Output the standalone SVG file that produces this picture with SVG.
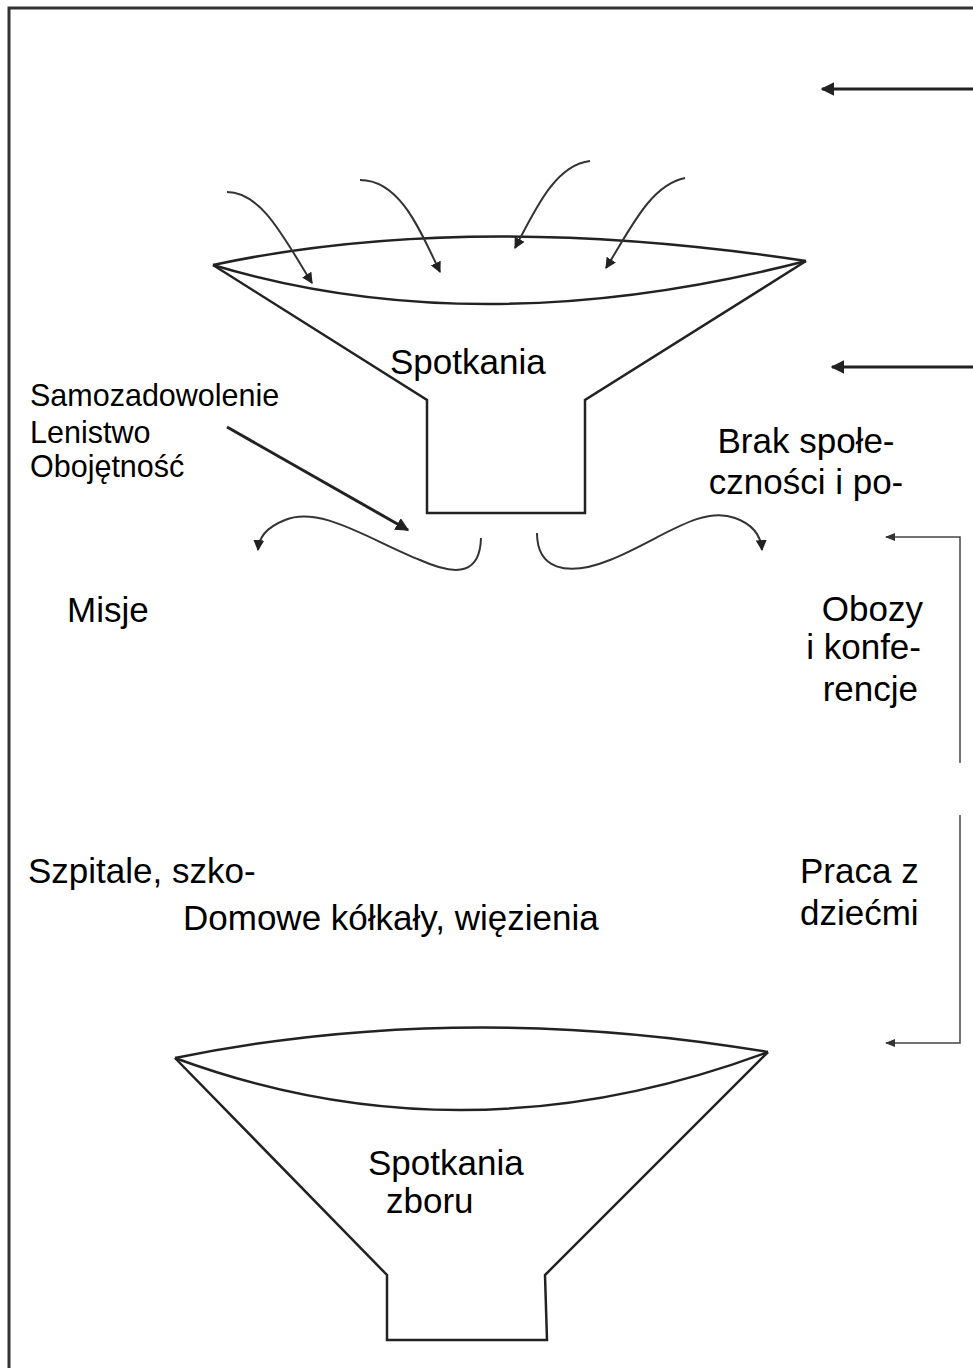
<svg xmlns="http://www.w3.org/2000/svg" width="973" height="1368" viewBox="0 0 973 1368">
<defs>
<marker id="ah" viewBox="0 0 10 10" refX="9" refY="5" markerWidth="5.5" markerHeight="5.5" orient="auto" markerUnits="strokeWidth">
<path d="M0,0 L10,5 L0,10 Z" fill="#222"/>
</marker>
<marker id="ahb" viewBox="0 0 10 10" refX="9" refY="5" markerWidth="4.5" markerHeight="4.5" orient="auto" markerUnits="strokeWidth">
<path d="M0,0 L10,5 L0,10 Z" fill="#222"/>
</marker>
<marker id="ahs" viewBox="0 0 10 10" refX="9" refY="5" markerWidth="7" markerHeight="7" orient="auto" markerUnits="strokeWidth">
<path d="M0,1 L10,5 L0,9 Z" fill="#333"/>
</marker>
</defs>
<style>
.ln{fill:none;stroke:#222;stroke-width:2.5;stroke-linejoin:miter}
.ar{fill:none;stroke:#333;stroke-width:2;marker-end:url(#ah)}
.br{fill:none;stroke:#444;stroke-width:1.5}
.t{font-family:"Liberation Sans",Arial,sans-serif;fill:#000}
.big{font-size:35px}
.small{font-size:30.5px}
</style>
<rect width="973" height="1368" fill="#fff"/>
<g id="border"><path d="M9,1368 L9,8 L973,8" fill="none" stroke="#333" stroke-width="3"/></g>

<g id="funnel-top">
<path class="ln" d="M213,265 Q470,210 806,261"/>
<path class="ln" d="M213,265 Q480,345 806,261"/>
<path class="ln" d="M213,265 L427,400 L427,513 L585,513 L585,400 L806,261"/>
<text class="t big" x="390" y="374">Spotkania</text>
</g>

<g id="funnel-bottom">
<path class="ln" d="M175,1058 Q460,1000 768,1052"/>
<path class="ln" d="M175,1058 Q465,1165 768,1052"/>
<path class="ln" d="M175,1058 L387,1275 L387,1340 L547,1340 L545,1275 L768,1052"/>
<text class="t big" x="368" y="1175">Spotkania</text>
<text class="t big" x="386" y="1213">zboru</text>
</g>

<g id="labels">
<text class="t small" x="30" y="406">Samozadowolenie</text>
<text class="t small" x="30" y="443">Lenistwo</text>
<text class="t small" x="30" y="477">Obojętność</text>
<text class="t big" x="806" y="453" text-anchor="middle">Brak społe-</text>
<text class="t big" x="806" y="494" text-anchor="middle">czności i po-</text>
<text class="t big" x="67" y="622">Misje</text>
<text class="t big" x="923" y="621" text-anchor="end">Obozy</text>
<text class="t big" x="921" y="659" text-anchor="end">i konfe-</text>
<text class="t big" x="918" y="701" text-anchor="end">rencje</text>
<text class="t big" x="28" y="883">Szpitale, szko-</text>
<text class="t big" x="183" y="930">Domowe kółkały, więzienia</text>
<text class="t big" x="800" y="883">Praca z</text>
<text class="t big" x="800" y="925">dziećmi</text>
</g>

<g id="connectors">
<path d="M973,89 L822,89" fill="none" stroke="#222" stroke-width="3" marker-end="url(#ahb)"/>
<path d="M973,367 L832,367" fill="none" stroke="#222" stroke-width="3" marker-end="url(#ahb)"/>
<path class="ar" d="M227,192 C262,192 285,240 312,283"/>
<path class="ar" d="M360,180 C400,180 420,230 440,272"/>
<path class="ar" d="M590,161 C555,165 535,210 515,248"/>
<path class="ar" d="M685,178 C650,185 630,230 606,268"/>
<path d="M227,427 L408,530" fill="none" stroke="#222" stroke-width="3" marker-end="url(#ahb)"/>
<path class="ar" d="M481,538 C480,572 460,578 420,560 C370,540 320,505 285,520 C265,528 259,538 258,550"/>
<path class="ar" d="M537,533 C537,568 565,578 610,560 C660,540 700,505 735,518 C755,525 761,537 762,550"/>
<path class="br" d="M960,763 L960,537 L886,537" marker-end="url(#ahs)"/>
<path class="br" d="M960,815 L960,1043 L886,1043" marker-end="url(#ahs)"/>
</g>
</svg>
